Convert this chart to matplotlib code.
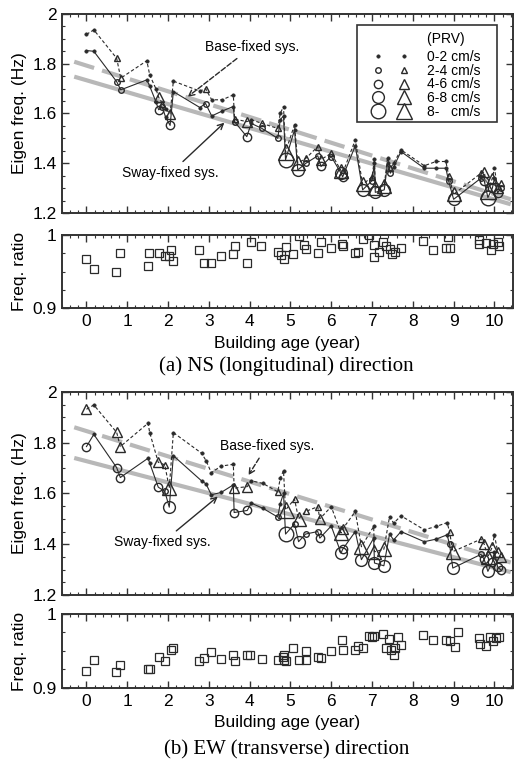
import matplotlib
matplotlib.use('Agg')
import matplotlib.pyplot as plt
from matplotlib.lines import Line2D
from matplotlib.patches import Rectangle
from matplotlib.legend_handler import HandlerTuple
from matplotlib.ticker import MultipleLocator, FuncFormatter
import numpy as np

plt.rcParams.update({
    'font.family': 'Liberation Sans', 'font.size': 12.5,
    'xtick.direction': 'in', 'ytick.direction': 'in',
    'xtick.top': True, 'ytick.right': True,
    'xtick.major.size': 5, 'ytick.major.size': 5,
    'xtick.minor.size': 2.5, 'ytick.minor.size': 2.5,
    'xtick.major.width': 1, 'ytick.major.width': 1,
    'xtick.minor.width': 0.8, 'ytick.minor.width': 0.8,
    'xtick.major.pad': 4, 'ytick.major.pad': 4,
    'axes.linewidth': 1.4, 'axes.edgecolor': '#333333',
})

# ---- (a) NS direction: age, sway-fixed freq, base-fixed freq, PRV class
ns_age = [0.00, 0.18, 0.74, 0.84, 1.48, 1.55, 1.70, 1.77, 1.86, 1.94, 2.05, 2.13,
          2.78, 2.92, 3.07, 3.33, 3.60, 3.63, 3.93, 4.04, 4.30, 4.69, 4.75, 4.83,
          4.88, 5.10, 5.18, 5.38, 5.67, 5.75, 6.00, 6.24, 6.28, 6.59, 6.77, 7.00,
          7.06, 7.08, 7.30, 7.38, 7.45, 7.53, 7.71, 8.28, 8.57, 8.81, 8.88, 9.00,
          9.67, 9.75, 9.84, 9.95, 10.00, 10.08, 10.15]
ns_sway = [1.853, 1.850, 1.728, 1.695, 1.735, 1.710, 1.648, 1.615, 1.625, 1.585, 1.552, 1.688,
           1.624, 1.640, 1.590, 1.610, 1.628, 1.567, 1.507, 1.560, 1.540, 1.500, 1.575, 1.590,
           1.414, 1.534, 1.373, 1.400, 1.430, 1.387, 1.427, 1.360, 1.345, 1.470, 1.293, 1.330,
           1.400, 1.283, 1.293, 1.400, 1.360, 1.385, 1.447, 1.380, 1.380, 1.380, 1.327, 1.255,
           1.340, 1.330, 1.262, 1.300, 1.340, 1.280, 1.300]
ns_base = [1.918, 1.936, 1.822, 1.742, 1.812, 1.755, 1.700, 1.665, 1.640, 1.620, 1.598, 1.730,
           1.690, 1.700, 1.655, 1.655, 1.675, 1.578, 1.567, 1.575, 1.560, 1.540, 1.600, 1.628,
           1.445, 1.555, 1.400, 1.420, 1.467, 1.415, 1.440, 1.370, 1.360, 1.494, 1.315, 1.345,
           1.416, 1.300, 1.310, 1.423, 1.380, 1.400, 1.454, 1.390, 1.407, 1.407, 1.350, 1.275,
           1.360, 1.365, 1.290, 1.340, 1.380, 1.300, 1.320]
ns_prv = [0, 0, 1, 1, 0, 0, 0, 2, 1, 0, 2, 0,
          0, 1, 0, 0, 0, 1, 2, 0, 1, 1, 0, 0,
          4, 0, 3, 1, 1, 2, 1, 3, 2, 0, 3, 1,
          0, 3, 3, 0, 1, 0, 0, 0, 0, 0, 1, 3,
          1, 2, 4, 2, 0, 2, 1]

ns_ratio_age = [0.00, 0.18, 0.73, 0.83, 1.50, 1.54, 1.77, 1.93, 2.03, 2.08, 2.13, 2.77,
                2.89, 3.06, 3.30, 3.59, 3.63, 3.93, 4.04, 4.28, 4.69, 4.77, 4.85, 4.89,
                5.07, 5.22, 5.34, 5.37, 5.67, 5.75, 6.00, 6.26, 6.30, 6.59, 6.65, 6.77,
                6.92, 7.06, 7.06, 7.18, 7.26, 7.35, 7.43, 7.49, 7.57, 7.71, 8.26, 8.50,
                8.82, 8.86, 8.92, 9.63, 9.63, 9.80, 9.92, 9.97, 10.08, 10.12]
ns_ratio = [0.967, 0.954, 0.950, 0.975, 0.958, 0.976, 0.975, 0.971, 0.971, 0.979, 0.964, 0.980,
            0.961, 0.961, 0.971, 0.974, 0.985, 0.962, 0.990, 0.985, 0.977, 0.973, 0.967, 0.984,
            0.974, 0.998, 0.986, 0.981, 0.975, 0.991, 0.982, 0.988, 0.985, 0.975, 0.977, 0.994,
            1.000, 0.987, 0.970, 0.977, 0.991, 0.985, 0.981, 0.974, 0.977, 0.982, 0.992, 0.980,
            0.982, 0.997, 0.982, 0.988, 0.993, 0.989, 0.980, 0.988, 0.991, 0.985]

# ---- (b) EW direction
ew_age = [0.00, 0.18, 0.74, 0.83, 1.51, 1.55, 1.76, 1.92, 2.03, 2.13, 2.82, 2.93,
          3.06, 3.30, 3.60, 3.62, 3.94, 4.04, 4.32, 4.69, 4.75, 4.83, 4.88, 5.10,
          5.20, 5.37, 5.67, 5.72, 6.00, 6.24, 6.28, 6.59, 6.74, 7.04, 7.06, 7.29,
          7.43, 7.53, 7.71, 8.28, 8.57, 8.84, 8.90, 8.98, 9.67, 9.75, 9.84, 9.95,
          10.00, 10.08, 10.15]
ew_sway = [1.785, 1.833, 1.702, 1.663, 1.739, 1.720, 1.625, 1.608, 1.546, 1.749, 1.650, 1.638,
           1.595, 1.604, 1.634, 1.525, 1.533, 1.562, 1.542, 1.507, 1.560, 1.600, 1.440, 1.480,
           1.410, 1.440, 1.450, 1.424, 1.472, 1.365, 1.380, 1.450, 1.339, 1.424, 1.326, 1.315,
           1.440, 1.417, 1.450, 1.410, 1.420, 1.437, 1.400, 1.306, 1.360, 1.340, 1.293, 1.330,
           1.370, 1.310, 1.300]
ew_base = [1.932, 1.949, 1.841, 1.785, 1.877, 1.840, 1.723, 1.713, 1.621, 1.840, 1.759, 1.730,
           1.682, 1.708, 1.715, 1.621, 1.627, 1.650, 1.640, 1.607, 1.660, 1.690, 1.535, 1.578,
           1.500, 1.529, 1.548, 1.500, 1.548, 1.444, 1.460, 1.529, 1.390, 1.470, 1.370, 1.380,
           1.509, 1.483, 1.512, 1.457, 1.470, 1.485, 1.450, 1.371, 1.420, 1.400, 1.350, 1.390,
           1.437, 1.370, 1.350]
ew_prv = [2, 0, 2, 2, 0, 0, 2, 1, 3, 0, 0, 0,
          0, 0, 0, 2, 2, 0, 0, 1, 0, 0, 4, 1,
          3, 1, 1, 2, 0, 3, 2, 0, 3, 0, 3, 3,
          0, 0, 0, 0, 0, 0, 1, 3, 1, 2, 3, 2,
          0, 2, 2]

ew_ratio_age = [0.00, 0.18, 0.73, 0.83, 1.50, 1.55, 1.77, 1.93, 2.06, 2.12, 2.77, 2.89,
                3.06, 3.30, 3.59, 3.63, 3.93, 4.00, 4.30, 4.69, 4.82, 4.85, 4.85, 4.90,
                5.07, 5.20, 5.37, 5.37, 5.67, 5.75, 6.00, 6.26, 6.30, 6.59, 6.65, 6.77,
                6.92, 7.00, 7.06, 7.26, 7.35, 7.41, 7.47, 7.53, 7.57, 7.63, 7.71, 8.26,
                8.50, 8.82, 8.92, 9.03, 9.10, 9.63, 9.65, 9.80, 9.90, 9.97, 10.05, 10.12]
ew_ratio = [0.923, 0.938, 0.922, 0.931, 0.926, 0.926, 0.942, 0.937, 0.951, 0.954, 0.937, 0.941,
            0.948, 0.939, 0.945, 0.937, 0.945, 0.945, 0.939, 0.938, 0.942, 0.938, 0.945, 0.936,
            0.954, 0.938, 0.938, 0.950, 0.942, 0.940, 0.950, 0.965, 0.951, 0.951, 0.957, 0.954,
            0.970, 0.969, 0.970, 0.973, 0.954, 0.966, 0.951, 0.945, 0.954, 0.969, 0.958, 0.972,
            0.965, 0.965, 0.963, 0.955, 0.975, 0.968, 0.960, 0.957, 0.969, 0.963, 0.968, 0.969]

# regression lines (end points)
fit_age = [-0.3, 10.4]
ns_fit_sway = [1.748, 1.235]
ns_fit_base = [1.808, 1.255]
ew_fit_sway = [1.740, 1.290]
ew_fit_base = [1.861, 1.328]

prv_labels = ['0-2 cm/s', '2-4 cm/s', '4-6 cm/s', '6-8 cm/s', '8-   cm/s']

CIRC_MS = [2.4, 4.0, 6.0, 8.5, 10.5]
TRI_MS = [2.4, 4.5, 7.0, 9.5, 11.5]
INK = '#2a2a2a'


def marker_style(marker, cat):
    ms = (CIRC_MS if marker == 'o' else TRI_MS)[cat]
    if cat == 0:
        return dict(marker='o', ms=ms, mfc=INK, mec=INK, mew=0.5)
    return dict(marker=marker, ms=ms, mfc='none', mec=INK, mew=1.0)


def draw_panel(ax, axr, age, sway, base, prv, fit_s, fit_b, r_age, ratio, notes):
    age, sway, base, prv = map(np.asarray, (age, sway, base, prv))
    ax.plot(fit_age, fit_s, color='#b8b8b8', lw=3.0, solid_capstyle='butt', zorder=1)
    ax.plot(fit_age, fit_b, color='#b8b8b8', lw=3.0, dashes=(5, 2), zorder=1)
    ax.plot(age, sway, color=INK, lw=0.8, zorder=2)
    ax.plot(age, base, color=INK, lw=0.8, dashes=(3, 2), zorder=2)
    for cat in range(5):
        m = prv == cat
        ax.plot(age[m], sway[m], ls='none', zorder=3, **marker_style('o', cat))
        ax.plot(age[m], base[m], ls='none', zorder=3, **marker_style('^', cat))

    (bx, by, btx, bty), (sx, sy, stx, sty) = notes
    ax.annotate('Base-fixed sys.', xy=(bx, by), xytext=(btx, bty), fontsize=10,
                ha='center', va='center',
                arrowprops=dict(arrowstyle='->', ls='--', lw=1.0, color=INK,
                                shrinkA=2, shrinkB=0))
    ax.annotate('Sway-fixed sys.', xy=(sx, sy), xytext=(stx, sty), fontsize=10,
                ha='center', va='center',
                arrowprops=dict(arrowstyle='->', lw=1.0, color=INK,
                                shrinkA=2, shrinkB=0))

    ax.set_xlim(-0.6, 10.45)
    ax.set_ylim(1.2, 2.0)
    ax.yaxis.set_major_locator(MultipleLocator(0.2))
    ax.yaxis.set_minor_locator(MultipleLocator(0.05))
    ax.yaxis.set_major_formatter(FuncFormatter(lambda v, p: f'{v:g}'))
    ax.set_ylabel('Eigen freq. (Hz)')
    ax.yaxis.set_label_coords(-0.078, 0.5)

    axr.plot(r_age, ratio, ls='none', marker='s', ms=6, mfc='none', mec=INK, mew=0.9)
    axr.set_xlim(-0.6, 10.45)
    axr.set_ylim(0.9, 1.0)
    axr.set_yticks([0.9, 1.0])
    axr.set_yticklabels(['0.9', '1'])
    axr.yaxis.set_minor_locator(MultipleLocator(0.025))
    axr.set_ylabel('Freq. ratio')
    axr.yaxis.set_label_coords(-0.078, 0.5)
    axr.set_xlabel('Building age (year)', labelpad=5)

    for a in (ax, axr):
        a.xaxis.set_major_locator(MultipleLocator(1))
        a.xaxis.set_minor_locator(MultipleLocator(0.2))
        a.tick_params(which='both', top=True, right=True, colors='#333333',
                      labelcolor='black')
    ax.tick_params(labelbottom=False)


fig = plt.figure(figsize=(5.14, 7.67), dpi=100)
L, W = 0.1206, 0.877
ax1 = fig.add_axes([L, 0.7223, W, 0.2595])
ax1r = fig.add_axes([L, 0.5984, W, 0.0952])
ax2 = fig.add_axes([L, 0.2243, W, 0.2646])
ax2r = fig.add_axes([L, 0.1030, W, 0.0965])

draw_panel(ax1, ax1r, ns_age, ns_sway, ns_base, ns_prv, ns_fit_sway, ns_fit_base,
           ns_ratio_age, ns_ratio,
           ((2.48, 1.667, 4.05, 1.867), (3.38, 1.563, 2.06, 1.36)))
draw_panel(ax2, ax2r, ew_age, ew_sway, ew_base, ew_prv, ew_fit_sway, ew_fit_base,
           ew_ratio_age, ew_ratio,
           ((3.97, 1.672, 4.42, 1.787), (3.22, 1.588, 1.86, 1.407)))

# legend (PRV classes): circle = sway-fixed, triangle = base-fixed
ax1.add_patch(Rectangle((0.654, 0.457), 0.311, 0.488, transform=ax1.transAxes,
                        fc='white', ec='#333333', lw=1.2, zorder=4))
handles = [(Line2D([], [], ls='none', **marker_style('o', c)),
            Line2D([], [], ls='none', **marker_style('^', c))) for c in range(5)]
leg = ax1.legend(handles, prv_labels, title='(PRV)    ', loc='upper left',
                 bbox_to_anchor=(0.683, 0.91), fontsize=10, title_fontsize=10,
                 handler_map={tuple: HandlerTuple(ndivide=None, pad=0.74)},
                 handlelength=3.0, handletextpad=1.1, labelspacing=-0.02,
                 borderpad=0, borderaxespad=0, frameon=False, alignment='right')
leg.set_zorder(5)
leg._legend_box.sep = 3

fig.text(0.558, 0.523, '(a) NS (longitudinal) direction', ha='center', va='center',
         family='Liberation Serif', fontsize=15)
fig.text(0.558, 0.022, '(b) EW (transverse) direction', ha='center', va='center',
         family='Liberation Serif', fontsize=15)

fig.savefig('out.png', dpi=100)
